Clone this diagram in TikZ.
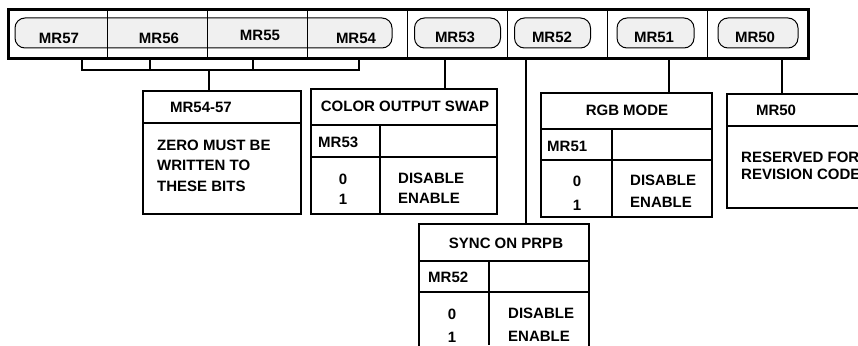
\documentclass[tikz,border=0pt]{standalone}
\usepackage{fontspec}
\setmainfont{Liberation Sans}
\usetikzlibrary{positioning}

\begin{document}
\begin{tikzpicture}[x=1pt,y=-1pt,
        cell/.style={draw, line width=0.9pt, minimum width=100pt,
                    minimum height=49pt, anchor=north west, inner sep=0pt},
        pill/.style={draw, line width=1pt, fill=gray!12, rounded corners=10pt,
                    minimum height=30pt, inner sep=0pt},
        txt/.style={font=\fontsize{15}{18}\selectfont\bfseries, inner sep=0pt},
        ltxt/.style={txt, anchor=west},
        regbox/.style={draw, line width=2pt, anchor=north west, inner sep=0pt},
        rule/.style={line width=1.2pt},
        thickrule/.style={line width=2.6pt},
        stem/.style={line width=2.6pt}
    ]
    \useasboundingbox (0,0) rectangle (858,345);
    \clip (0,0) rectangle (858,345);

    % Register bar
    \node[pill, minimum width=377pt] (p5754) at (203.5,33) {};
    \node[pill, minimum width=86pt]  (p53) at (457.5,33) {};
    \node[pill, minimum width=76pt]  (p52) at (552.5,33) {};
    \node[pill, minimum width=77pt]  (p51) at (655.5,33) {};
    \node[pill, minimum width=80pt]  (p50) at (758,33) {};
    \foreach \n [count=\i from 0] in {57,56,...,50}
        \node[cell] (c\n) at (7+100*\i,8) {};
    \node[draw, line width=2.8pt, minimum width=800pt, minimum height=49pt,
          anchor=north west, inner sep=0pt] (bar) at (7,8) {};
    \foreach \n/\x/\y in {57/59/38, 56/159/38, 55/260/35, 54/356/38,
                          53/455/37, 52/552/37, 51/654/37, 50/755/37}
        \node[txt] (l\n) at (\x,\y) {MR\n};

    % Boxes
    \node[regbox, minimum width=158pt, minimum height=123pt] (zero) at (142,90) {};
    \node[regbox, minimum width=186pt, minimum height=125pt] (swap) at (310,88) {};
    \node[regbox, minimum width=171pt, minimum height=124pt] (rgb)  at (540,92) {};
    \node[regbox, minimum width=170pt, minimum height=150pt] (sync) at (418,223) {};
    \node[regbox, minimum width=170pt, minimum height=114pt] (rsv)  at (726,93) {};

    % MR54-57
    \draw[rule] (zero.west |- 0,123) -- (zero.east |- 0,123);
    \node[txt] (zeroh) at (201,107) {MR54-57};
    \node[ltxt] (zero1) at (157,145) {ZERO MUST BE};
    \node[ltxt] (zero2) at (157,165) {WRITTEN TO};
    \node[ltxt] (zero3) at (157,186) {THESE BITS};

    % MR53
    \draw[rule] (swap.west |- 0,125) -- (swap.east |- 0,125);
    \draw[rule] (380,125) -- (swap.south -| 380,0);
    \draw[thickrule] (swap.west |- 0,157) -- (swap.east |- 0,157);
    \node[txt] (swaph) at (405,106) {COLOR OUTPUT SWAP};
    \node[ltxt] (swapr) at (318,142) {MR53};
    \node[txt] (swap0) at (343,179) {0};
    \node[txt] (swap1) at (343,199) {1};
    \node[ltxt] (swapd) at (398,178) {DISABLE};
    \node[ltxt] (swape) at (398,198) {ENABLE};

    % MR51
    \draw[rule] (rgb.west |- 0,129) -- (rgb.east |- 0,129);
    \draw[rule] (612,129) -- (rgb.south -| 612,0);
    \draw[thickrule] (rgb.west |- 0,160) -- (rgb.east |- 0,160);
    \node[txt] (rgbh) at (627,110) {RGB MODE};
    \node[ltxt] (rgbr) at (547,146) {MR51};
    \node[txt] (rgb0) at (577,181) {0};
    \node[txt] (rgb1) at (577,205) {1};
    \node[ltxt] (rgbd) at (630,180) {DISABLE};
    \node[ltxt] (rgbe) at (630,202) {ENABLE};

    % MR52
    \draw[rule] (sync.west |- 0,261) -- (sync.east |- 0,261);
    \draw[rule] (489,261) -- (489,345);
    \draw[thickrule] (sync.west |- 0,292) -- (sync.east |- 0,292);
    \node[txt] (synch) at (506,243) {SYNC ON PRPB};
    \node[ltxt] (syncr) at (428,277) {MR52};
    \node[txt] (sync0) at (452,314) {0};
    \node[txt] (sync1) at (452,337) {1};
    \node[ltxt] (syncd) at (508,313) {DISABLE};
    \node[ltxt] (synce) at (508,336) {ENABLE};

    % MR50
    \draw[rule] (rsv.west |- 0,126) -- (rsv.east |- 0,126);
    \node[txt] (rsvh) at (776,110) {MR50};
    \node[ltxt] (rsv1) at (741,157) {RESERVED FOR};
    \node[ltxt] (rsv2) at (741,174) {REVISION CODE};

    % Connections
    \coordinate (k1) at (82,57);
    \coordinate (k2) at (150,57);
    \coordinate (k3) at (253,57);
    \coordinate (k4) at (359,57);
    \coordinate (j)  at (209,70);
    \draw[stem] (k1) |- (j) -| (k4);
    \draw[stem] (k2) -- (k2 |- j);
    \draw[stem] (k3) -- (k3 |- j);
    \draw[stem] (j) -- (j |- zero.north);

    \coordinate (t53) at (445,57);
    \coordinate (t52) at (526,57);
    \coordinate (t51) at (669,57);
    \coordinate (t50) at (782,57);
    \draw[stem] (t53) -- (t53 |- swap.north);
    \draw[stem] (t52) -- (t52 |- sync.north);
    \draw[stem] (t51) -- (t51 |- rgb.north);
    \draw[rule] (t50) -- (t50 |- rsv.north);

    \end{tikzpicture}
\end{document}
